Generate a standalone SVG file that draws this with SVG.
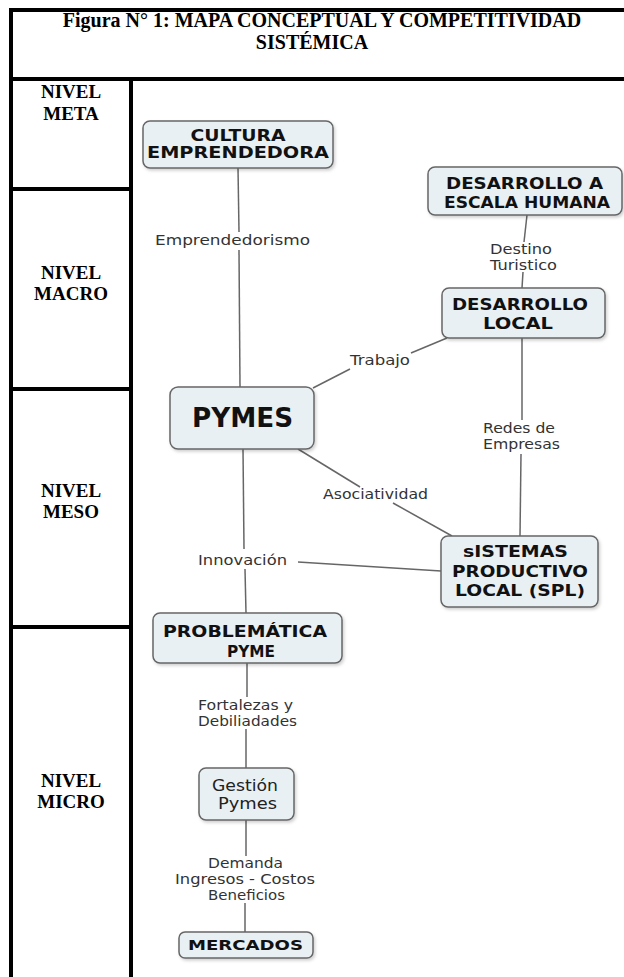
<svg xmlns="http://www.w3.org/2000/svg" width="624" height="977" viewBox="0 0 624 977">
<style>
.tb{stroke:#000;stroke-width:4;fill:none}
.ttl{font-family:"Liberation Serif","Times New Roman",serif;font-weight:bold;font-size:20px;fill:#000;text-anchor:middle}
.lvl{font-family:"Liberation Serif","Times New Roman",serif;font-weight:bold;font-size:19px;fill:#000;text-anchor:middle}
.box{fill:#e9f0f4;stroke:#666;stroke-width:1.5}
.nt{font-family:"DejaVu Sans",Verdana,sans-serif;font-weight:bold;fill:#111;text-anchor:middle}
.nr{font-family:"DejaVu Sans",Verdana,sans-serif;fill:#222;text-anchor:middle}
.lb{font-family:"DejaVu Sans",Verdana,sans-serif;font-size:14px;fill:#333;text-anchor:middle}
.cn{stroke:#666;stroke-width:1.5;fill:none}
</style>
<defs>
<filter id="sh" x="-10%" y="-10%" width="130%" height="140%">
<feDropShadow dx="1.5" dy="2" stdDeviation="1.5" flood-color="#000" flood-opacity="0.18"/>
</filter>
</defs>
<rect width="624" height="977" fill="#fff"/>
<g id="table">
<line class="tb" x1="9" y1="10" x2="624" y2="10"/>
<line class="tb" x1="11" y1="8" x2="11" y2="977"/>
<line class="tb" x1="9" y1="79" x2="624" y2="79"/>
<line class="tb" x1="131" y1="79" x2="131" y2="977"/>
<line class="tb" x1="9" y1="189" x2="133" y2="189"/>
<line class="tb" x1="9" y1="389" x2="133" y2="389"/>
<line class="tb" x1="9" y1="627" x2="133" y2="627"/>
<text class="ttl" x="322" y="27">Figura N° 1: MAPA CONCEPTUAL Y COMPETITIVIDAD</text>
<text class="ttl" x="312" y="49">SISTÉMICA</text>
<text class="lvl" x="71" y="98">NIVEL</text>
<text class="lvl" x="71" y="120">META</text>
<text class="lvl" x="71" y="279">NIVEL</text>
<text class="lvl" x="71" y="300">MACRO</text>
<text class="lvl" x="71" y="497">NIVEL</text>
<text class="lvl" x="71" y="518">MESO</text>
<text class="lvl" x="71" y="787">NIVEL</text>
<text class="lvl" x="71" y="808">MICRO</text>
</g>
<g id="connectors">
<line class="cn" x1="238" y1="168" x2="239" y2="232"/>
<line class="cn" x1="239" y1="250" x2="240" y2="387"/>
<line class="cn" x1="527" y1="215" x2="524" y2="242"/>
<line class="cn" x1="523" y1="272" x2="522" y2="288"/>
<line class="cn" x1="447" y1="338" x2="411" y2="353"/>
<line class="cn" x1="350" y1="369" x2="313" y2="388"/>
<line class="cn" x1="522" y1="338" x2="522" y2="420"/>
<line class="cn" x1="521" y1="454" x2="520" y2="536"/>
<line class="cn" x1="298" y1="449" x2="360" y2="487"/>
<line class="cn" x1="393" y1="503" x2="452" y2="536"/>
<line class="cn" x1="243" y1="449" x2="244" y2="549"/>
<line class="cn" x1="245" y1="569" x2="246" y2="613"/>
<line class="cn" x1="298" y1="562" x2="441" y2="571"/>
<line class="cn" x1="247" y1="663" x2="247" y2="697"/>
<line class="cn" x1="246" y1="729" x2="246" y2="768"/>
<line class="cn" x1="246" y1="820" x2="246" y2="856"/>
<line class="cn" x1="245" y1="903" x2="245" y2="932"/>
<text class="lb" x="232.5" y="245" textLength="155" lengthAdjust="spacingAndGlyphs">Emprendedorismo</text>
<text class="lb" x="521" y="254" textLength="62" lengthAdjust="spacingAndGlyphs">Destino</text>
<text class="lb" x="523.5" y="270" textLength="67" lengthAdjust="spacingAndGlyphs">Turistico</text>
<text class="lb" x="380" y="365" textLength="60" lengthAdjust="spacingAndGlyphs">Trabajo</text>
<text class="lb" x="519" y="433" textLength="72" lengthAdjust="spacingAndGlyphs">Redes de</text>
<text class="lb" x="521.5" y="449" textLength="77" lengthAdjust="spacingAndGlyphs">Empresas</text>
<text class="lb" x="375.5" y="499" textLength="105" lengthAdjust="spacingAndGlyphs">Asociatividad</text>
<text class="lb" x="242.5" y="565" textLength="89" lengthAdjust="spacingAndGlyphs">Innovación</text>
<text class="lb" x="245.5" y="710" textLength="95" lengthAdjust="spacingAndGlyphs">Fortalezas y</text>
<text class="lb" x="247.5" y="726" textLength="99" lengthAdjust="spacingAndGlyphs">Debiliadades</text>
<text class="lb" x="245.5" y="868" textLength="75" lengthAdjust="spacingAndGlyphs">Demanda</text>
<text class="lb" x="245" y="884" textLength="140" lengthAdjust="spacingAndGlyphs">Ingresos - Costos</text>
<text class="lb" x="246.5" y="900" textLength="77" lengthAdjust="spacingAndGlyphs">Beneficios</text>
</g>
<g id="cultura">
<rect class="box" filter="url(#sh)" x="143" y="121" width="190" height="47" rx="7"/>
<text class="nt" font-size="15" x="238" y="141" textLength="95" lengthAdjust="spacingAndGlyphs">CULTURA</text>
<text class="nt" font-size="15" x="238" y="157.5" textLength="182" lengthAdjust="spacingAndGlyphs">EMPRENDEDORA</text>
</g>
<g id="desarrollo-humana">
<rect class="box" filter="url(#sh)" x="428" y="167" width="194" height="48" rx="7"/>
<text class="nt" font-size="16" x="524.5" y="188.5" textLength="157" lengthAdjust="spacingAndGlyphs">DESARROLLO A</text>
<text class="nt" font-size="16" x="527" y="207.5" textLength="166" lengthAdjust="spacingAndGlyphs">ESCALA HUMANA</text>
</g>
<g id="desarrollo-local">
<rect class="box" filter="url(#sh)" x="442" y="288" width="163" height="50" rx="7"/>
<text class="nt" font-size="16" x="520" y="309.5" textLength="136" lengthAdjust="spacingAndGlyphs">DESARROLLO</text>
<text class="nt" font-size="16" x="518" y="328.5" textLength="70" lengthAdjust="spacingAndGlyphs">LOCAL</text>
</g>
<g id="pymes">
<rect class="box" filter="url(#sh)" x="170" y="387" width="144" height="62" rx="8"/>
<text class="nt" font-size="26" x="242.5" y="427" textLength="101" lengthAdjust="spacingAndGlyphs">PYMES</text>
</g>
<g id="spl">
<rect class="box" filter="url(#sh)" x="441" y="536" width="157" height="71" rx="7"/>
<text class="nt" font-size="16.5" x="515.5" y="557" textLength="105" lengthAdjust="spacingAndGlyphs">sISTEMAS</text>
<text class="nt" font-size="16.5" x="520" y="577" textLength="136" lengthAdjust="spacingAndGlyphs">PRODUCTIVO</text>
<text class="nt" font-size="16.5" x="520" y="596" textLength="130" lengthAdjust="spacingAndGlyphs">LOCAL (SPL)</text>
</g>
<g id="problematica">
<rect class="box" filter="url(#sh)" x="153" y="613" width="189" height="50" rx="7"/>
<text class="nt" font-size="16.5" x="245" y="637" textLength="164" lengthAdjust="spacingAndGlyphs">PROBLEMÁTICA</text>
<text class="nt" font-size="16.5" x="251" y="657" textLength="48" lengthAdjust="spacingAndGlyphs">PYME</text>
</g>
<g id="gestion">
<rect class="box" filter="url(#sh)" x="199" y="768" width="95" height="52" rx="7"/>
<text class="nr" font-size="15" x="245" y="791" textLength="66" lengthAdjust="spacingAndGlyphs">Gestión</text>
<text class="nr" font-size="15" x="247.5" y="809" textLength="59" lengthAdjust="spacingAndGlyphs">Pymes</text>
</g>
<g id="mercados">
<rect class="box" filter="url(#sh)" x="179" y="932" width="134" height="26" rx="6"/>
<text class="nt" font-size="14" x="245.5" y="950" textLength="115" lengthAdjust="spacingAndGlyphs">MERCADOS</text>
</g>
</svg>
